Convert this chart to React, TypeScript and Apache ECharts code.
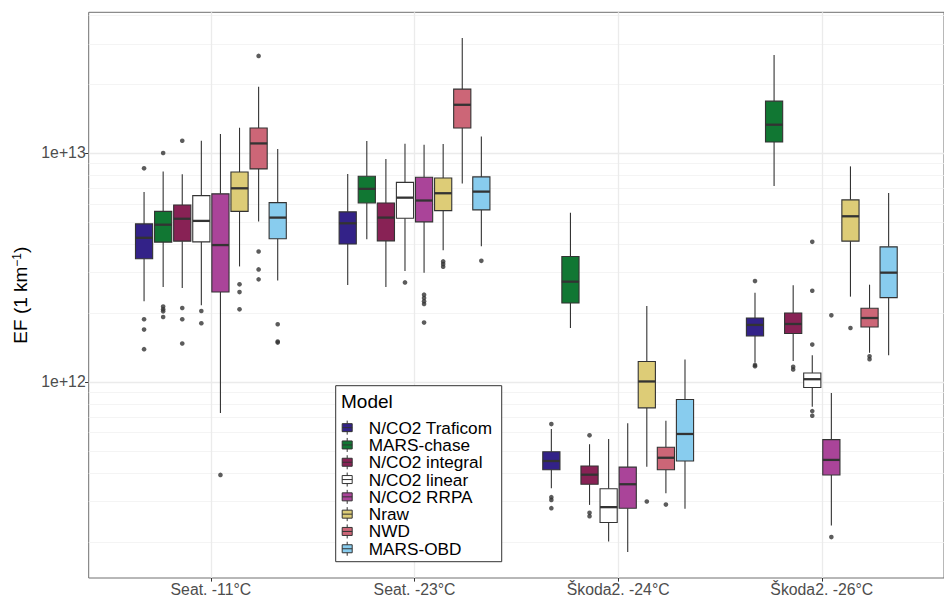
import React, { useEffect, useRef } from 'react';
import * as echarts from 'echarts';

const conditions = ['Seat. -11°C', 'Seat. -23°C', 'Škoda2. -24°C', 'Škoda2. -26°C'];
const models = ['N/CO2 Traficom', 'MARS-chase', 'N/CO2 integral', 'N/CO2 linear', 'N/CO2 RRPA', 'Nraw', 'NWD', 'MARS-OBD'];
const modelColors = ['#332288', '#117733', '#882255', '#FFFFFF', '#AA4499', '#DDCC77', '#CC6677', '#88CCEE'];

// [lower whisker, Q1, median, Q3, upper whisker] for each condition
const traficomBoxes = [
  [2.25e12, 3.45e12, 4.26e12, 4.9e12, 6.76e12],
  [2.648e12, 4.0e12, 4.93e12, 5.53e12, 8.1e12],
  [3.43e11, 4.13e11, 4.51e11, 4.95e11, 6.22e11],
  [1.215e12, 1.587e12, 1.773e12, 1.901e12, 2.453e12],
];
const chaseBoxes = [
  [2.595e12, 4.08e12, 4.86e12, 5.56e12, 8.31e12],
  [4.2e12, 6.05e12, 6.97e12, 7.91e12, 1.128e13],
  [1.72e12, 2.21e12, 2.74e12, 3.53e12, 5.48e12],
  [7.18e12, 1.117e13, 1.329e13, 1.685e13, 2.683e13],
];
const integralBoxes = [
  [2.569e12, 4.12e12, 5.16e12, 5.93e12, 8.07e12],
  [2.595e12, 4.13e12, 5.22e12, 6.05e12, 9.42e12],
  [2.9e11, 3.57e11, 3.93e11, 4.29e11, 5.34e11],
  [1.234e12, 1.626e12, 1.79e12, 2.0e12, 2.64e12],
];
const linearBoxes = [
  [2.16e12, 4.09e12, 5.05e12, 6.51e12, 1.131e13],
  [3.047e12, 5.19e12, 6.38e12, 7.44e12, 1.098e13],
  [2.007e11, 2.43e11, 2.835e11, 3.41e11, 5.63e11],
  [7.78e11, 9.45e11, 1.027e12, 1.094e12, 1.307e12],
];
const rrpaBoxes = [
  [7.31e11, 2.468e12, 3.96e12, 6.63e12, 1.21e13],
  [3.0e12, 5.0e12, 6.2e12, 7.83e12, 1.087e13],
  [1.805e11, 2.806e11, 3.57e11, 4.24e11, 6.59e11],
  [2.357e11, 3.92e11, 4.56e11, 5.59e11, 8.93e11],
];
const nrawBoxes = [
  [3.194e12, 5.56e12, 7.01e12, 8.26e12, 1.289e13],
  [3.762e12, 5.6e12, 6.67e12, 7.78e12, 1.094e13],
  [4.26e11, 7.7e11, 1.004e12, 1.227e12, 2.145e12],
  [2.357e12, 4.12e12, 5.29e12, 6.24e12, 8.74e12],
];
const nwdBoxes = [
  [5.02e12, 8.52e12, 1.101e13, 1.285e13, 1.945e13],
  [7.35e12, 1.285e13, 1.624e13, 1.901e13, 3.181e13],
  [3.263e11, 4.13e11, 4.66e11, 5.18e11, 6.76e11],
  [1.34e12, 1.737e12, 1.901e12, 2.096e12, 2.658e12],
];
const obdBoxes = [
  [2.775e12, 4.22e12, 5.22e12, 6.07e12, 1.041e13],
  [3.915e12, 5.64e12, 6.78e12, 7.86e12, 1.181e13],
  [2.787e11, 4.51e11, 5.92e11, 8.38e11, 1.252e12],
  [1.307e12, 2.333e12, 3.0e12, 3.89e12, 6.69e12],
];

// outliers for each condition
const traficomOutliers = [[8.57e12, 1.877e12, 1.692e12, 1.389e12], [], [6.54e11, 3.134e11, 3.05e11, 2.806e11], [2.756e12, 1.186e12, 1.171e12]];
const chaseOutliers = [[1.0e13, 2.132e12, 2.075e12, 2.033e12, 1.92e12], [], [], []];
const integralOutliers = [[1.131e13, 2.102e12, 1.877e12, 1.471e12], [], [5.84e11, 2.677e11, 2.59e11], [1.163e12, 1.133e12]];
const linearOutliers = [[2.039e12, 1.803e12], [2.72e12], [], [4.09e12, 2.502e12, 1.455e12, 7.45e11, 7.11e11]];
const rrpaOutliers = [[3.92e11], [2.404e12, 2.324e12, 2.248e12, 2.188e12, 1.815e12], [], [1.953e12, 2.098e11]];
const nrawOutliers = [[2.667e12, 2.468e12, 2.075e12], [3.36e12, 3.27e12, 3.184e12], [3.0e11], [1.72e12]];
const nwdOutliers = [[2.656e13, 3.713e12, 3.1e12, 2.804e12], [], [2.91e11], [1.294e12, 1.256e12]];
const obdOutliers = [[1.785e12, 1.5e12, 1.485e12], [3.38e12], [], []];

const yTickValues = [1e12, 1e13];
const yMinorGrid = [2e11, 3e11, 4e11, 5e11, 6e11, 7e11, 8e11, 9e11, 2e12, 3e12, 4e12, 5e12, 6e12, 7e12, 8e12, 9e12, 2e13, 3e13, 4e13];
const xTickValues = [1, 2, 3, 4];

const boxSets = [traficomBoxes, chaseBoxes, integralBoxes, linearBoxes, rrpaBoxes, nrawBoxes, nwdBoxes, obdBoxes];
const outlierSets = [traficomOutliers, chaseOutliers, integralOutliers, linearOutliers, rrpaOutliers, nrawOutliers, nwdOutliers, obdOutliers];

const FONT = "'Liberation Sans', Arial, sans-serif";
const SLOT = 0.75 / 8;
const INK = '#333333';
const LEGEND_ICON = 'path://M0,3 L10,3 L10,11 L0,11 Z M5,0 L5,3 M5,11 L5,14 M0,7 L10,7';

export default function App() {
  const ref = useRef<HTMLDivElement>(null);
  useEffect(() => {
    document.body.style.margin = '0';
    if (!ref.current) return;
    const chart = echarts.init(ref.current, undefined, { renderer: 'svg' });

    const boxSeries = models.map((name, mi) => ({
      type: 'custom',
      name,
      silent: true,
      z: 3,
      encode: { x: 0, y: [1, 2, 3, 4, 5] },
      data: boxSets[mi].map((b, gi) => [gi + 1, ...b]),
      renderItem: (params: any, api: any) => {
        const xc = api.value(0) + (mi - 3.5) * SLOT;
        const hw = (SLOT * 0.9) / 2;
        const lo = api.coord([xc, api.value(1)]);
        const q1 = api.coord([xc, api.value(2)]);
        const md = api.coord([xc, api.value(3)]);
        const q3 = api.coord([xc, api.value(4)]);
        const hi = api.coord([xc, api.value(5)]);
        const left = api.coord([xc - hw, api.value(3)])[0];
        const right = api.coord([xc + hw, api.value(3)])[0];
        return {
          type: 'group',
          children: [
            { type: 'line', shape: { x1: lo[0], y1: lo[1], x2: q1[0], y2: q1[1] }, style: { stroke: INK, lineWidth: 1.1 } },
            { type: 'line', shape: { x1: q3[0], y1: q3[1], x2: hi[0], y2: hi[1] }, style: { stroke: INK, lineWidth: 1.1 } },
            { type: 'rect', shape: { x: left, y: q3[1], width: right - left, height: q1[1] - q3[1] }, style: { fill: modelColors[mi], stroke: INK, lineWidth: 1.1 } },
            { type: 'line', shape: { x1: left, y1: md[1], x2: right, y2: md[1] }, style: { stroke: INK, lineWidth: 2.3 } },
          ],
        };
      },
    }));

    const outlierSeries = models.map((name, mi) => ({
      type: 'scatter',
      name,
      silent: true,
      z: 4,
      symbol: 'circle',
      symbolSize: 4.6,
      itemStyle: { color: INK },
      data: outlierSets[mi].flatMap((vals, gi) => vals.map((v) => [gi + 1 + (mi - 3.5) * SLOT, v])),
    }));

    const gridSeries = {
      type: 'line',
      name: 'grid',
      data: [],
      silent: true,
      z: 1,
      markLine: {
        silent: true,
        symbol: 'none',
        z: 1,
        label: { show: false },
        animation: false,
        data: [
          ...yMinorGrid.map((v) => ({ yAxis: v, lineStyle: { color: '#f1f1f1', width: 0.8, type: 'solid' } })),
          ...yTickValues.map((v) => ({ yAxis: v, lineStyle: { color: '#ebebeb', width: 1.3, type: 'solid' } })),
          ...xTickValues.map((v) => ({ xAxis: v, lineStyle: { color: '#ebebeb', width: 1.3, type: 'solid' } })),
        ],
      },
    };

    chart.setOption({
      animation: false,
      backgroundColor: '#ffffff',
      textStyle: { fontFamily: FONT },
      title: {
        text: 'Model',
        left: 341,
        top: 392,
        padding: 0,
        textStyle: { fontSize: 19, fontWeight: 'normal', color: '#000', fontFamily: FONT },
      },
      legend: {
        orient: 'vertical',
        left: 335.7,
        top: 385.7,
        padding: [33.3, 9.4, 4.3, 6],
        itemGap: 0,
        itemWidth: 10,
        itemHeight: 14,
        selectedMode: false,
        backgroundColor: '#ffffff',
        borderColor: INK,
        borderWidth: 1,
        borderRadius: 0,
        textStyle: { fontSize: 17.2, color: '#000', fontFamily: FONT, lineHeight: 17.3, padding: [0, 0, 0, 11.6] },
        data: models.map((m, i) => ({
          name: m,
          icon: LEGEND_ICON,
          itemStyle: { color: modelColors[i], borderColor: INK, borderWidth: 1 },
        })),
      },
      grid: {
        left: 88.7,
        top: 12.3,
        width: 868,
        height: 567,
        show: true,
        borderColor: '#707070',
        borderWidth: 1,
        backgroundColor: 'transparent',
        containLabel: false,
      },
      xAxis: {
        type: 'value',
        min: 0.4,
        max: 4.6,
        axisLine: { show: false },
        splitLine: { show: false },
        axisTick: { show: true, customValues: xTickValues, length: 3.6, lineStyle: { color: INK, width: 1 } },
        axisLabel: {
          customValues: xTickValues,
          formatter: (v: number) => conditions[Math.round(v) - 1] ?? '',
          fontSize: 15.8,
          color: '#4d4d4d',
          fontFamily: FONT,
          margin: 3,
        },
      },
      yAxis: {
        type: 'log',
        logBase: 10,
        min: 1.39e11,
        max: 4.118e13,
        axisLine: { show: false },
        splitLine: { show: false },
        minorTick: { show: false },
        axisTick: { show: true, customValues: yTickValues, length: 3.6, lineStyle: { color: INK, width: 1 } },
        axisLabel: {
          customValues: yTickValues,
          formatter: (v: number) => {
            const e = Math.log10(v);
            return Math.abs(e - Math.round(e)) < 1e-6 ? '1e+' + Math.round(e) : '';
          },
          fontSize: 15.8,
          color: '#4d4d4d',
          fontFamily: FONT,
          margin: 3,
        },
        name: 'EF (1 km{sup|−1})',
        nameLocation: 'middle',
        nameRotate: 90,
        nameGap: 54,
        nameTextStyle: {
          fontSize: 19,
          color: '#000',
          fontFamily: FONT,
          rich: { sup: { fontSize: 12, padding: [0, 0, 8, 0], fontFamily: FONT, color: '#000' } },
        },
      },
      series: [gridSeries, ...boxSeries, ...outlierSeries],
    });

    return () => chart.dispose();
  }, []);

  return <div ref={ref} style={{ width: 944, height: 597 }} />;
}
